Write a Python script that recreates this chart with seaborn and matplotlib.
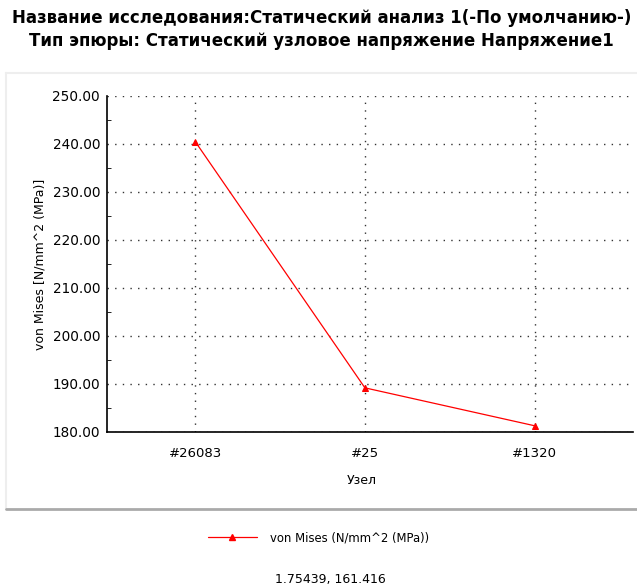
import matplotlib
matplotlib.use("Agg")
import matplotlib.pyplot as plt
from matplotlib.lines import Line2D
from matplotlib.ticker import MultipleLocator, FormatStrFormatter
import seaborn as sns
import pandas as pd

# данные
nodes = ["#26083", "#25", "#1320"]
von_mises = [240.5, 189.2, 181.3]

title_1 = "Название исследования:Статический анализ 1(-По умолчанию-)"
title_2 = "Тип эпюры: Статический узловое напряжение Напряжение1"
series_name = "von Mises (N/mm^2 (MPa))"
footer = "1.75439, 161.416"

df = pd.DataFrame({"node": nodes, "vm": von_mises})

sns.set_style("white")
plt.rcParams["font.family"] = ["DejaVu Sans"]
plt.rcParams["text.color"] = "black"
plt.rcParams["axes.labelcolor"] = "black"
plt.rcParams["xtick.color"] = "black"
plt.rcParams["ytick.color"] = "black"

fig = plt.figure(figsize=(6.37, 5.84), dpi=100)
ax = fig.add_axes([107 / 637, 152 / 584, 526 / 637, 336 / 584])

sns.lineplot(data=df, x="node", y="vm", ax=ax, color="red", lw=0.9,
             marker="^", markersize=5, markeredgecolor="red", sort=False)

ax.set_xlim(-0.52, 2.58)
ax.set_ylim(180, 250)
ax.yaxis.set_major_locator(MultipleLocator(10))
ax.yaxis.set_minor_locator(MultipleLocator(5))
ax.yaxis.set_major_formatter(FormatStrFormatter("%.2f"))

ax.grid(True, axis="both", which="major", ls=(0, (1, 4.5)), color="#333333", lw=1)
for s in ["top", "right"]:
    ax.spines[s].set_visible(False)
for s in ["left", "bottom"]:
    ax.spines[s].set_color("black")
    ax.spines[s].set_linewidth(1.2)

ax.tick_params(axis="y", which="major", direction="inout", length=6, labelsize=9.8, pad=2)
ax.tick_params(axis="y", which="minor", direction="in", length=3, left=True)
ax.tick_params(axis="x", direction="inout", length=6, labelsize=9.5, pad=8)

ax.set_xlabel("Узел", fontsize=9, labelpad=8)
ax.xaxis.set_label_coords(0.485, -0.125)
ax.set_ylabel("von Mises [N/mm^2 (MPa)]", fontsize=9, labelpad=4)

fig.text(0.505, 1 - 18 / 584, title_1, ha="center", va="center", fontsize=12, fontweight="bold")
fig.text(0.505, 1 - 41 / 584, title_2, ha="center", va="center", fontsize=12, fontweight="bold")

handle = Line2D([], [], color="red", lw=0.9, marker="^", markersize=4)
fig.legend([handle], [series_name], loc="center left", bbox_to_anchor=(197 / 637, 1 - 538 / 584),
           frameon=False, fontsize=8.4, handlelength=4.2, handletextpad=1.2)

fig.text(330 / 637, 1 - 579 / 584, footer, ha="center", va="center", fontsize=9)

# рамка панели
fig.add_artist(Line2D([6 / 637, 6 / 637], [1 - 509 / 584, 1 - 73 / 584], color="#eeeeee", lw=1.5))
fig.add_artist(Line2D([6 / 637, 1], [1 - 73 / 584, 1 - 73 / 584], color="#eeeeee", lw=1.5))
fig.add_artist(Line2D([6 / 637, 1], [1 - 509 / 584, 1 - 509 / 584], color="#aaaaaa", lw=2))

fig.savefig("out.png", dpi=100)
